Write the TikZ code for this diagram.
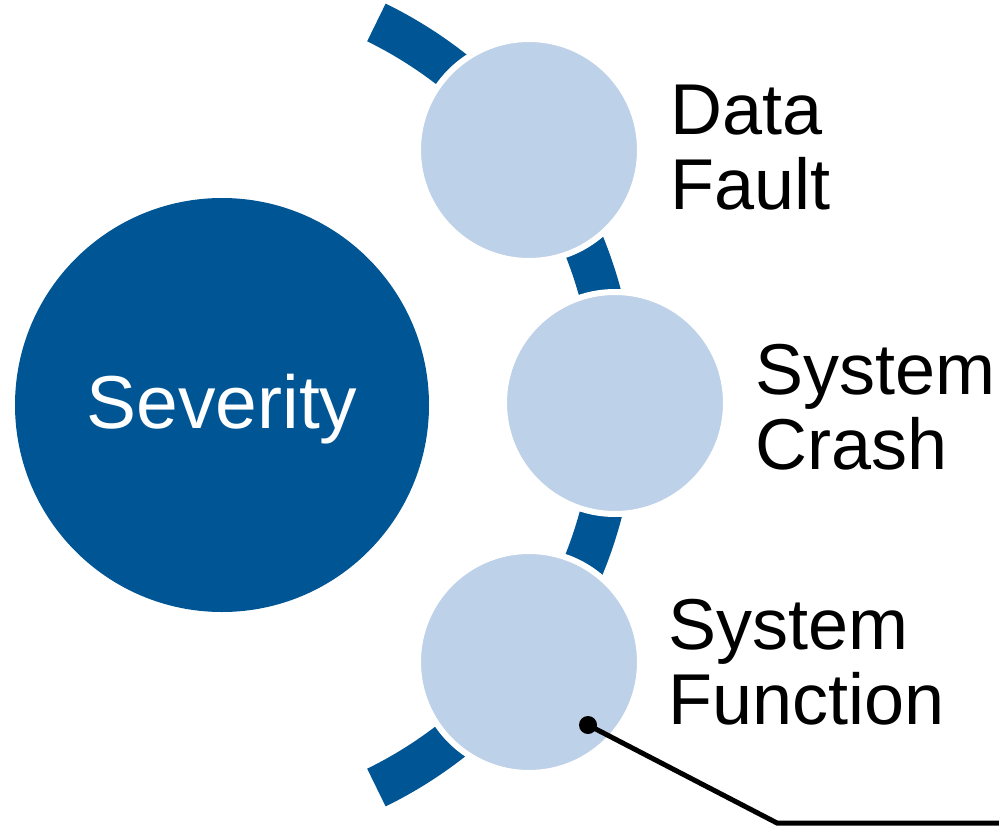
\documentclass[tikz,border=0pt]{standalone}
\usepackage{fontspec}
\setmainfont{Liberation Sans}
\usetikzlibrary{calc}
\definecolor{darkblue}{RGB}{0,85,148}
\definecolor{lightblue}{RGB}{189,209,233}
\begin{document}
\begin{tikzpicture}[x=1pt,y=-1pt,
  bigcircle/.style={circle,fill=darkblue,inner sep=0pt,minimum size=414pt,text=white,
    text height=54pt,text depth=8pt,font=\fontsize{75}{80}\selectfont},
  smallcircle/.style={circle,fill=lightblue,draw=white,line width=6pt,inner sep=0pt,minimum size=222pt},
  lbl/.style={anchor=base west,inner sep=0pt,align=left,font=\fontsize{72}{75}\selectfont},
  leader/.style={line width=5pt,black}]
\useasboundingbox (0,0) rectangle (999,827);
\coordinate (arcc) at (189,405);
% accent arc
\fill[darkblue] ($(arcc)+(-63.9:447)$) arc[start angle=-63.9,end angle=63.9,radius=447]
  -- ($(arcc)+(63.9:405)$) arc[start angle=63.9,end angle=-63.9,radius=405] -- cycle;
\node[bigcircle] (sev) at (222,405) {Severity};
\node[smallcircle] (c1) at (529,150) {};
\node[smallcircle] (c2) at (615,403) {};
\node[smallcircle] (c3) at (529,662) {};
\node[lbl] (l1) at (670,209) {Data\\Fault};
\node[lbl] (l2) at (755,469) {System\\Crash};
\node[lbl] (l3) at (668,724) {System\\Function};
\coordinate (dot) at (588,725);
\coordinate (bend) at (777,823);
\coordinate (off) at (1005,823);
\fill (dot) circle[radius=9];
\draw[leader] (dot) -- (bend) -- (off);
\end{tikzpicture}
\end{document}
